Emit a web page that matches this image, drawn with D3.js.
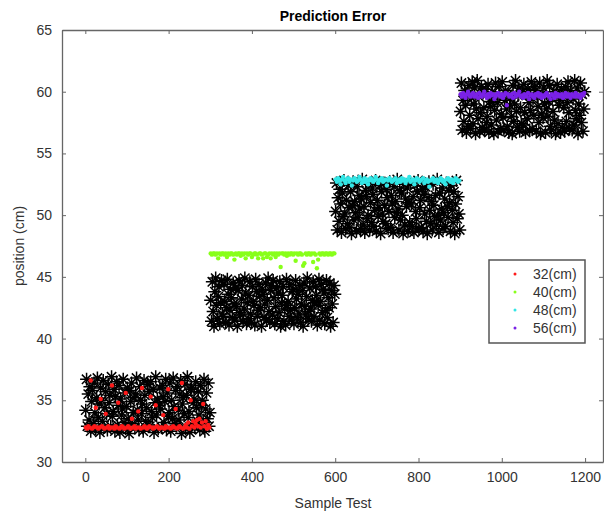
<!DOCTYPE html>
<html>
<head>
<meta charset="utf-8">
<script src="https://cdn.jsdelivr.net/npm/d3@7"></script>
<style>
  body { margin: 0; background: #fff; }
  text { font-family: "Liberation Sans", Arial, sans-serif; }
</style>
</head>
<body>
<script>
// groups of 300 test samples, one per true position
var groupNames = ["32(cm)", "40(cm)", "48(cm)", "56(cm)"];
var groupColors = ["#ff1a1a", "#88ff1a", "#33e6e6", "#7a22e6"];
var samplesPerGroup = 300;
var measuredStep = 2;  // every 2nd measured sample kept
var predictedStep = 3; // every 3rd predicted sample kept

var xTicks = [0, 200, 400, 600, 800, 1000, 1200];
var yTicks = [30, 35, 40, 45, 50, 55, 60, 65];

// measured positions (black asterisks)
var measured32 = [34.2,36.7,32.9,35.5,33.4,36.1,32.5,34.9,35.8,33.1,36.4,34.0,32.7,35.2,36.8,
  33.6,34.7,32.4,36.0,35.0,33.3,36.6,32.8,34.4,35.7,33.9,32.6,36.3,34.8,35.4,
  32.9,36.9,33.7,34.1,35.9,32.5,35.3,36.5,33.0,34.6,36.2,32.4,35.1,33.8,34.3,
  36.7,33.2,35.6,32.7,34.5,36.0,33.5,32.3,35.8,34.9,36.4,33.1,34.0,35.2,32.8,
  35.5,36.8,34.2,33.4,32.6,36.1,35.0,33.9,34.7,32.5,36.6,35.4,33.3,34.4,36.3,
  33.0,35.7,32.9,36.5,34.1,33.6,35.9,32.4,34.8,36.9,33.8,35.1,32.7,34.6,36.0,
  34.3,32.8,36.2,35.3,33.2,34.9,36.7,32.6,35.6,33.7,34.0,36.4,32.5,35.0,33.5,
  36.8,34.5,33.1,35.8,32.9,36.1,34.2,33.4,35.5,36.6,32.3,34.7,35.2,33.9,36.3,
  32.7,35.4,36.9,33.6,34.1,32.4,35.9,36.0,33.0,34.8,35.1,32.8,36.5,34.4,33.3,
  35.7,33.8,32.6,36.2,34.6,35.0,33.2,36.7,32.5,34.3,35.6,33.5,36.4,32.9,34.0];
var measured40 = [43.1,41.4,44.6,42.2,41.0,43.8,44.9,42.7,41.6,43.4,44.2,41.2,42.9,44.7,42.0,
  41.8,44.4,43.0,41.3,42.5,44.8,43.6,41.1,42.3,44.0,43.3,41.7,44.5,42.8,41.5,
  44.1,42.6,41.0,43.9,44.7,42.1,41.9,43.2,44.3,41.4,42.4,44.9,43.7,41.2,42.9,
  41.6,43.5,44.6,42.0,41.3,44.2,43.0,42.7,41.1,44.8,43.8,41.8,42.3,44.4,43.4,
  42.5,41.0,44.0,43.6,41.7,42.8,44.5,41.5,43.1,44.9,42.2,41.3,43.9,44.3,41.9,
  44.7,43.3,41.2,42.6,44.1,41.6,43.7,42.1,44.6,41.0,42.9,43.5,44.2,41.4,42.4,
  41.1,44.8,42.7,43.0,41.8,44.4,42.3,41.5,43.8,44.0,41.2,42.5,44.7,43.2,41.7,
  43.6,42.0,44.3,41.3,42.8,43.9,41.0,44.5,42.6,41.9,43.4,44.9,41.6,42.2,44.1,
  42.4,41.4,43.1,44.6,41.8,42.9,44.2,43.5,41.1,42.7,44.8,41.5,43.0,44.4,42.1,
  44.0,43.7,41.2,42.3,44.7,41.7,43.3,42.5,44.5,41.0,43.9,42.8,41.3,44.3,43.6];
var measured48 = [50.3,52.6,48.8,51.4,49.5,52.1,50.9,48.6,51.8,49.9,52.8,50.1,48.9,51.2,49.3,
  52.4,50.6,49.0,51.9,48.5,50.8,52.7,49.6,51.1,50.2,48.7,52.3,49.8,51.6,50.5,
  48.9,51.3,52.9,49.2,50.7,48.6,52.0,51.5,49.7,50.0,52.5,48.8,51.0,49.4,52.2,
  51.7,49.1,50.4,52.8,48.7,51.2,49.9,50.6,52.4,48.5,51.9,50.1,49.5,52.6,50.8,
  49.3,52.1,51.4,48.9,50.3,52.7,49.0,51.6,50.9,48.6,52.3,49.8,51.1,50.2,52.9,
  50.5,48.8,52.0,49.6,51.8,50.0,48.5,52.5,49.2,51.3,50.7,52.2,48.7,51.0,49.4,
  52.6,50.9,49.1,51.5,48.6,52.4,50.3,49.7,51.9,52.8,48.9,50.6,51.2,49.0,52.1,
  48.7,51.7,50.1,52.3,49.5,48.5,51.4,52.7,50.4,49.3,51.1,48.8,52.5,50.8,49.9,
  51.6,49.2,52.9,50.0,48.6,51.8,49.6,50.5,52.2,48.9,50.2,51.3,49.1,52.6,50.7,
  49.8,52.0,51.0,48.7,52.4,50.4,49.4,51.9,48.5,50.9,52.8,49.7,51.5,50.1,48.8];
var measured56 = [58.4,60.7,56.9,59.3,57.6,60.1,58.9,56.7,59.8,57.2,60.5,58.1,57.0,59.5,60.8,
  57.4,59.0,60.3,56.6,58.6,60.9,57.8,59.6,56.8,58.3,60.4,57.1,59.9,58.7,56.9,
  60.2,57.5,58.0,60.6,56.7,59.2,58.8,57.3,60.0,59.4,56.6,58.5,60.7,57.7,59.1,
  56.8,60.4,59.7,57.0,58.2,60.8,57.9,56.9,59.3,60.1,58.6,57.2,59.8,56.7,58.9,
  59.5,58.0,56.6,60.5,57.6,59.0,60.9,58.4,57.1,59.7,60.3,56.8,58.7,57.4,60.0,
  57.3,60.6,58.3,56.7,59.9,57.8,60.2,59.1,56.9,58.5,60.8,57.0,59.4,58.1,60.4,
  60.1,56.8,59.6,58.8,57.5,60.7,56.6,58.2,59.8,57.9,60.3,59.0,56.7,58.6,60.9,
  58.0,59.2,60.5,57.2,56.9,59.5,58.4,60.0,57.7,56.6,59.9,60.6,57.4,58.9,59.3,
  56.7,60.2,57.1,59.7,58.7,56.8,60.4,57.6,59.1,60.8,58.3,57.0,60.1,59.6,56.9,
  59.4,57.3,60.9,58.5,57.8,60.3,56.6,59.0,58.1,60.7,57.5,59.8,56.8,58.6,60.0];

// predicted positions (coloured dots)
var predicted32 = [32.8,32.7,32.9,32.8,36.6,32.7,32.8,32.9,34.4,32.8,
  32.7,32.8,35.1,32.9,32.8,32.7,33.9,32.8,32.9,32.7,
  32.8,36.2,32.8,32.7,32.9,32.8,34.8,32.7,32.8,32.9,
  32.8,32.7,35.6,32.8,32.9,32.8,32.7,33.5,32.8,32.9,
  32.7,32.8,34.1,32.8,32.7,36.0,32.8,32.9,32.8,32.7,
  32.8,32.9,35.3,32.8,32.7,32.8,34.6,32.9,32.8,32.7,
  32.8,32.8,33.8,32.7,32.9,32.8,35.9,32.8,32.7,32.8,
  32.9,32.8,34.3,32.7,32.8,32.9,32.8,36.4,32.7,32.8,
  33.0,32.8,33.2,32.7,35.0,32.9,33.3,32.8,33.1,33.4,
  32.9,33.5,32.8,33.2,34.7,32.9,33.3,32.7,33.0,32.8];
var predicted40 = [46.9,46.8,46.9,46.9,46.8,46.9,46.5,46.9,46.8,46.9,
  46.9,46.8,46.9,46.6,46.9,46.8,46.9,46.9,46.8,46.4,
  46.9,46.8,46.9,46.9,46.7,46.9,46.8,46.9,46.5,46.9,
  46.8,46.9,46.9,46.6,46.8,46.9,46.9,46.8,46.5,46.9,
  46.9,46.8,46.5,46.9,46.9,46.6,46.8,46.9,46.5,46.9,
  46.8,46.9,46.6,46.9,46.8,46.9,45.8,46.9,46.9,46.8,
  46.9,46.7,46.9,46.8,46.9,46.9,46.8,46.9,46.3,46.9,
  46.8,46.9,46.9,46.8,45.9,46.1,46.9,46.8,46.9,46.9,
  46.8,46.9,46.2,46.9,46.8,45.7,46.4,46.9,46.8,46.9,
  46.9,46.8,46.9,46.9,46.8,46.9,46.9,46.8,46.9,46.9];
var predicted48 = [52.9,52.7,53.0,52.8,52.5,52.9,53.1,52.8,52.6,52.9,
  53.0,52.7,52.9,52.4,52.8,53.0,52.9,52.7,52.8,53.1,
  52.9,52.6,52.8,53.0,52.7,52.9,52.5,52.8,53.0,52.9,
  52.7,52.8,53.1,52.9,52.6,52.8,52.9,53.0,52.7,52.8,
  52.9,52.4,52.8,53.0,52.9,52.7,52.8,52.9,53.0,52.6,
  52.8,52.9,52.7,53.0,52.8,52.9,52.6,52.8,52.9,53.1,
  52.7,52.8,52.9,52.5,52.8,53.0,52.9,52.7,52.8,52.9,
  53.0,52.6,52.8,52.9,52.7,52.3,52.8,52.9,53.0,52.7,
  52.8,52.9,52.6,52.8,53.0,52.9,52.7,52.8,52.5,52.9,
  53.0,52.8,52.7,52.9,52.6,52.8,53.0,52.9,52.7,52.8];
var predicted56 = [59.8,59.6,59.9,59.7,59.5,59.8,60.0,59.7,59.6,59.8,
  59.9,59.6,59.7,59.8,59.5,59.9,59.7,59.6,59.8,60.0,
  59.7,59.5,59.8,59.6,59.9,59.7,59.8,59.4,59.6,59.8,
  59.9,59.7,59.6,59.8,59.5,59.7,59.9,58.9,59.8,59.6,
  59.7,59.8,59.5,59.9,59.6,59.7,59.8,60.0,59.6,59.7,
  59.5,59.8,59.7,59.6,59.9,59.4,59.7,59.8,59.6,59.5,
  59.8,59.7,59.9,59.6,59.8,59.5,59.7,59.6,59.8,59.9,
  59.7,59.6,59.4,59.8,59.7,59.5,59.9,59.6,59.8,59.7,
  59.6,59.8,59.5,59.7,59.9,59.6,59.8,59.7,59.5,59.8,
  59.7,59.6,59.9,59.8,59.6,59.7,59.5,59.8,59.7,59.9];

var measured = [measured32, measured40, measured48, measured56];
var predicted = [predicted32, predicted40, predicted48, predicted56];

window.onload = setChart();

function setChart(){
    var width = 604,
        height = 514,
        left = 62,
        right = 603,
        top = 30,
        bottom = 462;

    var svg = d3.select("body")
        .append("svg")
        .attr("width", width)
        .attr("height", height);

    var x = d3.scaleLinear()
        .domain([-56, 1243])
        .range([left, right]);

    var y = d3.scaleLinear()
        .domain([30, 65])
        .range([bottom, top]);

    //turn each series into points, x = sample number
    function toPoints(arr, g, step){
        return arr.map(function(v, k){
            return {x: g * samplesPerGroup + k * step + 1, y: v, g: g};
        });
    };

    var measuredPts = [], predictedPts = [];
    for (var g=0; g<measured.length; g++){
        measuredPts = measuredPts.concat(toPoints(measured[g], g, measuredStep));
        predictedPts = predictedPts.concat(toPoints(predicted[g], g, predictedStep));
    };

    var plot = svg.append("g");

    //asterisk markers
    var r = 6.5, d = r * 0.72;
    var star = "M" + (-r) + ",0H" + r + "M0," + (-r) + "V" + r +
        "M" + (-d) + "," + (-d) + "L" + d + "," + d +
        "M" + (-d) + "," + d + "L" + d + "," + (-d);

    plot.selectAll(".star")
        .data(measuredPts)
        .enter()
        .append("path")
        .attr("class", "star")
        .attr("d", star)
        .attr("transform", function(p){
            return "translate(" + x(p.x) + "," + y(p.y) + ")";
        })
        .attr("stroke", "#000")
        .attr("stroke-width", 1.5)
        .attr("fill", "none");

    //prediction dots
    plot.selectAll(".dot")
        .data(predictedPts)
        .enter()
        .append("circle")
        .attr("class", "dot")
        .attr("cx", function(p){ return x(p.x); })
        .attr("cy", function(p){ return y(p.y); })
        .attr("r", 2.2)
        .attr("fill", function(p){ return groupColors[p.g]; });

    //axes, ticks inside on all four sides
    var axisColor = "#666";
    var axes = [
        {gen: d3.axisBottom(x).tickValues(xTicks), t: "translate(0," + bottom + ")", labels: true},
        {gen: d3.axisTop(x).tickValues(xTicks), t: "translate(0," + top + ")", labels: false},
        {gen: d3.axisLeft(y).tickValues(yTicks), t: "translate(" + left + ",0)", labels: true},
        {gen: d3.axisRight(y).tickValues(yTicks), t: "translate(" + right + ",0)", labels: false}
    ];
    axes.forEach(function(a){
        var ax = svg.append("g")
            .attr("transform", a.t)
            .call(a.gen.tickFormat(d3.format("d")).tickSizeInner(-4).tickSizeOuter(0).tickPadding(10));
        ax.select(".domain").attr("stroke", axisColor).attr("stroke-width", 1.3);
        ax.selectAll(".tick line").attr("stroke", axisColor);
        ax.selectAll(".tick text")
            .attr("fill", "#333")
            .style("font-size", "14px");
        if (!a.labels) ax.selectAll(".tick text").remove();
    });

    //titles
    svg.append("text")
        .attr("x", 333)
        .attr("y", 21)
        .attr("text-anchor", "middle")
        .style("font-size", "14px")
        .style("font-weight", "bold")
        .attr("fill", "#000")
        .text("Prediction Error");

    svg.append("text")
        .attr("x", 333)
        .attr("y", 508)
        .attr("text-anchor", "middle")
        .style("font-size", "14px")
        .attr("fill", "#333")
        .text("Sample Test");

    svg.append("text")
        .attr("transform", "translate(24,246) rotate(-90)")
        .attr("text-anchor", "middle")
        .style("font-size", "14px")
        .attr("fill", "#333")
        .text("position (cm)");

    //legend
    var legend = svg.append("g")
        .attr("transform", "translate(489,260)");

    legend.append("rect")
        .attr("width", 96)
        .attr("height", 83)
        .attr("fill", "#fff")
        .attr("stroke", "#555")
        .attr("stroke-width", 1.5);

    var items = legend.selectAll(".item")
        .data(groupNames)
        .enter()
        .append("g")
        .attr("class", "item")
        .attr("transform", function(n, i){
            return "translate(0," + (14 + i * 18) + ")";
        });

    items.append("circle")
        .attr("cx", 26)
        .attr("r", 1.5)
        .attr("fill", function(n, i){ return groupColors[i]; });

    items.append("text")
        .attr("x", 44)
        .attr("dy", "0.35em")
        .style("font-size", "14px")
        .attr("fill", "#333")
        .text(function(n){ return n; });
};
</script>
</body>
</html>
